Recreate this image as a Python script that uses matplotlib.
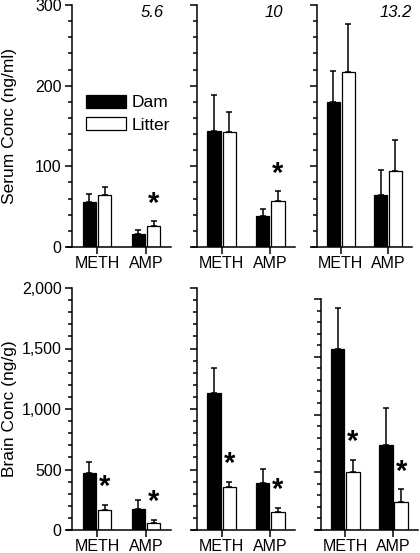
import matplotlib
matplotlib.use("Agg")
import matplotlib.pyplot as plt
import numpy as np
from matplotlib.ticker import MultipleLocator, FuncFormatter

plt.rcParams["font.family"] = ["Liberation Sans", "DejaVu Sans"]

# =================== data ===================
groups = ["METH", "AMP"]
doses = ["5.6", "10", "13.2"]

serum_dam = [[56, 16], [144, 39], [180, 65]]
serum_dam_err = [[10, 5], [44, 8], [38, 31]]
serum_litter = [[64, 26], [143, 57], [217, 94]]
serum_litter_err = [[10, 6], [24, 12], [60, 39]]
serum_sig = [[False, True], [False, True], [False, False]]

brain_dam = [[474, 174], [1130, 386], [1565, 736]]
brain_dam_err = [[91, 74], [212, 115], [354, 318]]
brain_litter = [[165, 60], [358, 146], [505, 245]]
brain_litter_err = [[42, 22], [42, 36], [101, 107]]
brain_sig = [[True, True], [True, True], [True, True]]

# =================== layout (pixels: x-axis start, end, top, bottom) ===================
W, H = 420, 553
top_boxes = [(67, 171, 5, 247), (192, 295, 5, 247), (312, 412, 5, 247)]
bot_boxes = [(67, 171, 288, 530), (192, 295, 288, 530), (316, 418, 299, 530)]
title_x = [0.93, 0.88, 1.0]

fig = plt.figure(figsize=(W / 100, H / 100), dpi=100)

BW = 0.275
OFF = 0.158
LW = 1.1
TICK_FS = 11.5


def make_ax(box):
    x0, x1, y0, y1 = box
    return fig.add_axes([x0 / W, 1 - y1 / H, (x1 - x0) / W, (y1 - y0) / H])


def draw_panel(ax, dam, dam_err, lit, lit_err, sig, ymax, major, minor, show_labels):
    x = np.arange(len(groups))
    b1 = ax.bar(x - OFF, dam, BW, color="black", edgecolor="black", linewidth=0.9,
                label="Dam", zorder=2)
    b2 = ax.bar(x + OFF, lit, BW, color="white", edgecolor="black", linewidth=0.9,
                label="Litter", zorder=2)
    zeros = np.zeros(len(groups))
    ax.errorbar(x - OFF, dam, yerr=[zeros, dam_err], fmt="none", ecolor="black",
                elinewidth=LW, capsize=2.4, capthick=LW, zorder=1)
    ax.errorbar(x + OFF, lit, yerr=[zeros, lit_err], fmt="none", ecolor="black",
                elinewidth=LW, capsize=2.4, capthick=LW, zorder=1)
    for i, s in enumerate(sig):
        if s:
            ax.annotate("*", (x[i] + OFF, lit[i] + lit_err[i]), xytext=(0, 7),
                        textcoords="offset points", ha="center", va="baseline",
                        fontsize=21, fontweight="bold")

    ax.set_xlim(-0.612, 1.51)
    ax.set_ylim(0, ymax)
    ax.spines["top"].set_visible(False)
    ax.spines["right"].set_visible(False)
    ax.spines["left"].set_position(("data", -0.51))
    for sp in ("left", "bottom"):
        ax.spines[sp].set_linewidth(LW)
    ax.set_xticks(x)
    ax.set_xticklabels(groups, fontsize=TICK_FS)
    ax.yaxis.set_major_locator(MultipleLocator(major))
    ax.yaxis.set_minor_locator(MultipleLocator(minor))
    ax.tick_params(axis="both", which="major", length=5, width=LW, direction="out",
                   labelsize=TICK_FS)
    ax.tick_params(axis="x", pad=1.5)
    ax.tick_params(axis="y", pad=2.5)
    ax.tick_params(axis="y", which="minor", length=3, width=LW, direction="out")
    if show_labels:
        ax.yaxis.set_major_formatter(FuncFormatter(lambda v, p: f"{v:,.0f}"))
    else:
        ax.set_yticklabels([])
    ax.patch.set_visible(False)
    return b1, b2


for k in range(3):
    ax = make_ax(top_boxes[k])
    draw_panel(ax, serum_dam[k], serum_dam_err[k], serum_litter[k],
               serum_litter_err[k], serum_sig[k], 300, 100, 20, k == 0)
    ax.text(title_x[k], 1.0, doses[k], transform=ax.transAxes, ha="right", va="top",
            fontsize=12, style="italic")
    if k == 0:
        ax.legend(loc="upper left", bbox_to_anchor=(0.183, 0.628), frameon=False,
                  borderpad=0, borderaxespad=0, handlelength=2.3, handleheight=0.75,
                  labelspacing=0.4, handletextpad=0.3, fontsize=12.5)

for k in range(3):
    ax = make_ax(bot_boxes[k])
    draw_panel(ax, brain_dam[k], brain_dam_err[k], brain_litter[k],
               brain_litter_err[k], brain_sig[k], 2000, 500, 100, k == 0)

fig.text(10 / W, 1 - 126 / H, "Serum Conc (ng/ml)", rotation=90, ha="center",
         va="center", fontsize=12.5)
fig.text(10 / W, 1 - 409 / H, "Brain Conc (ng/g)", rotation=90, ha="center",
         va="center", fontsize=12.5)

fig.savefig("out.png", dpi=100)
